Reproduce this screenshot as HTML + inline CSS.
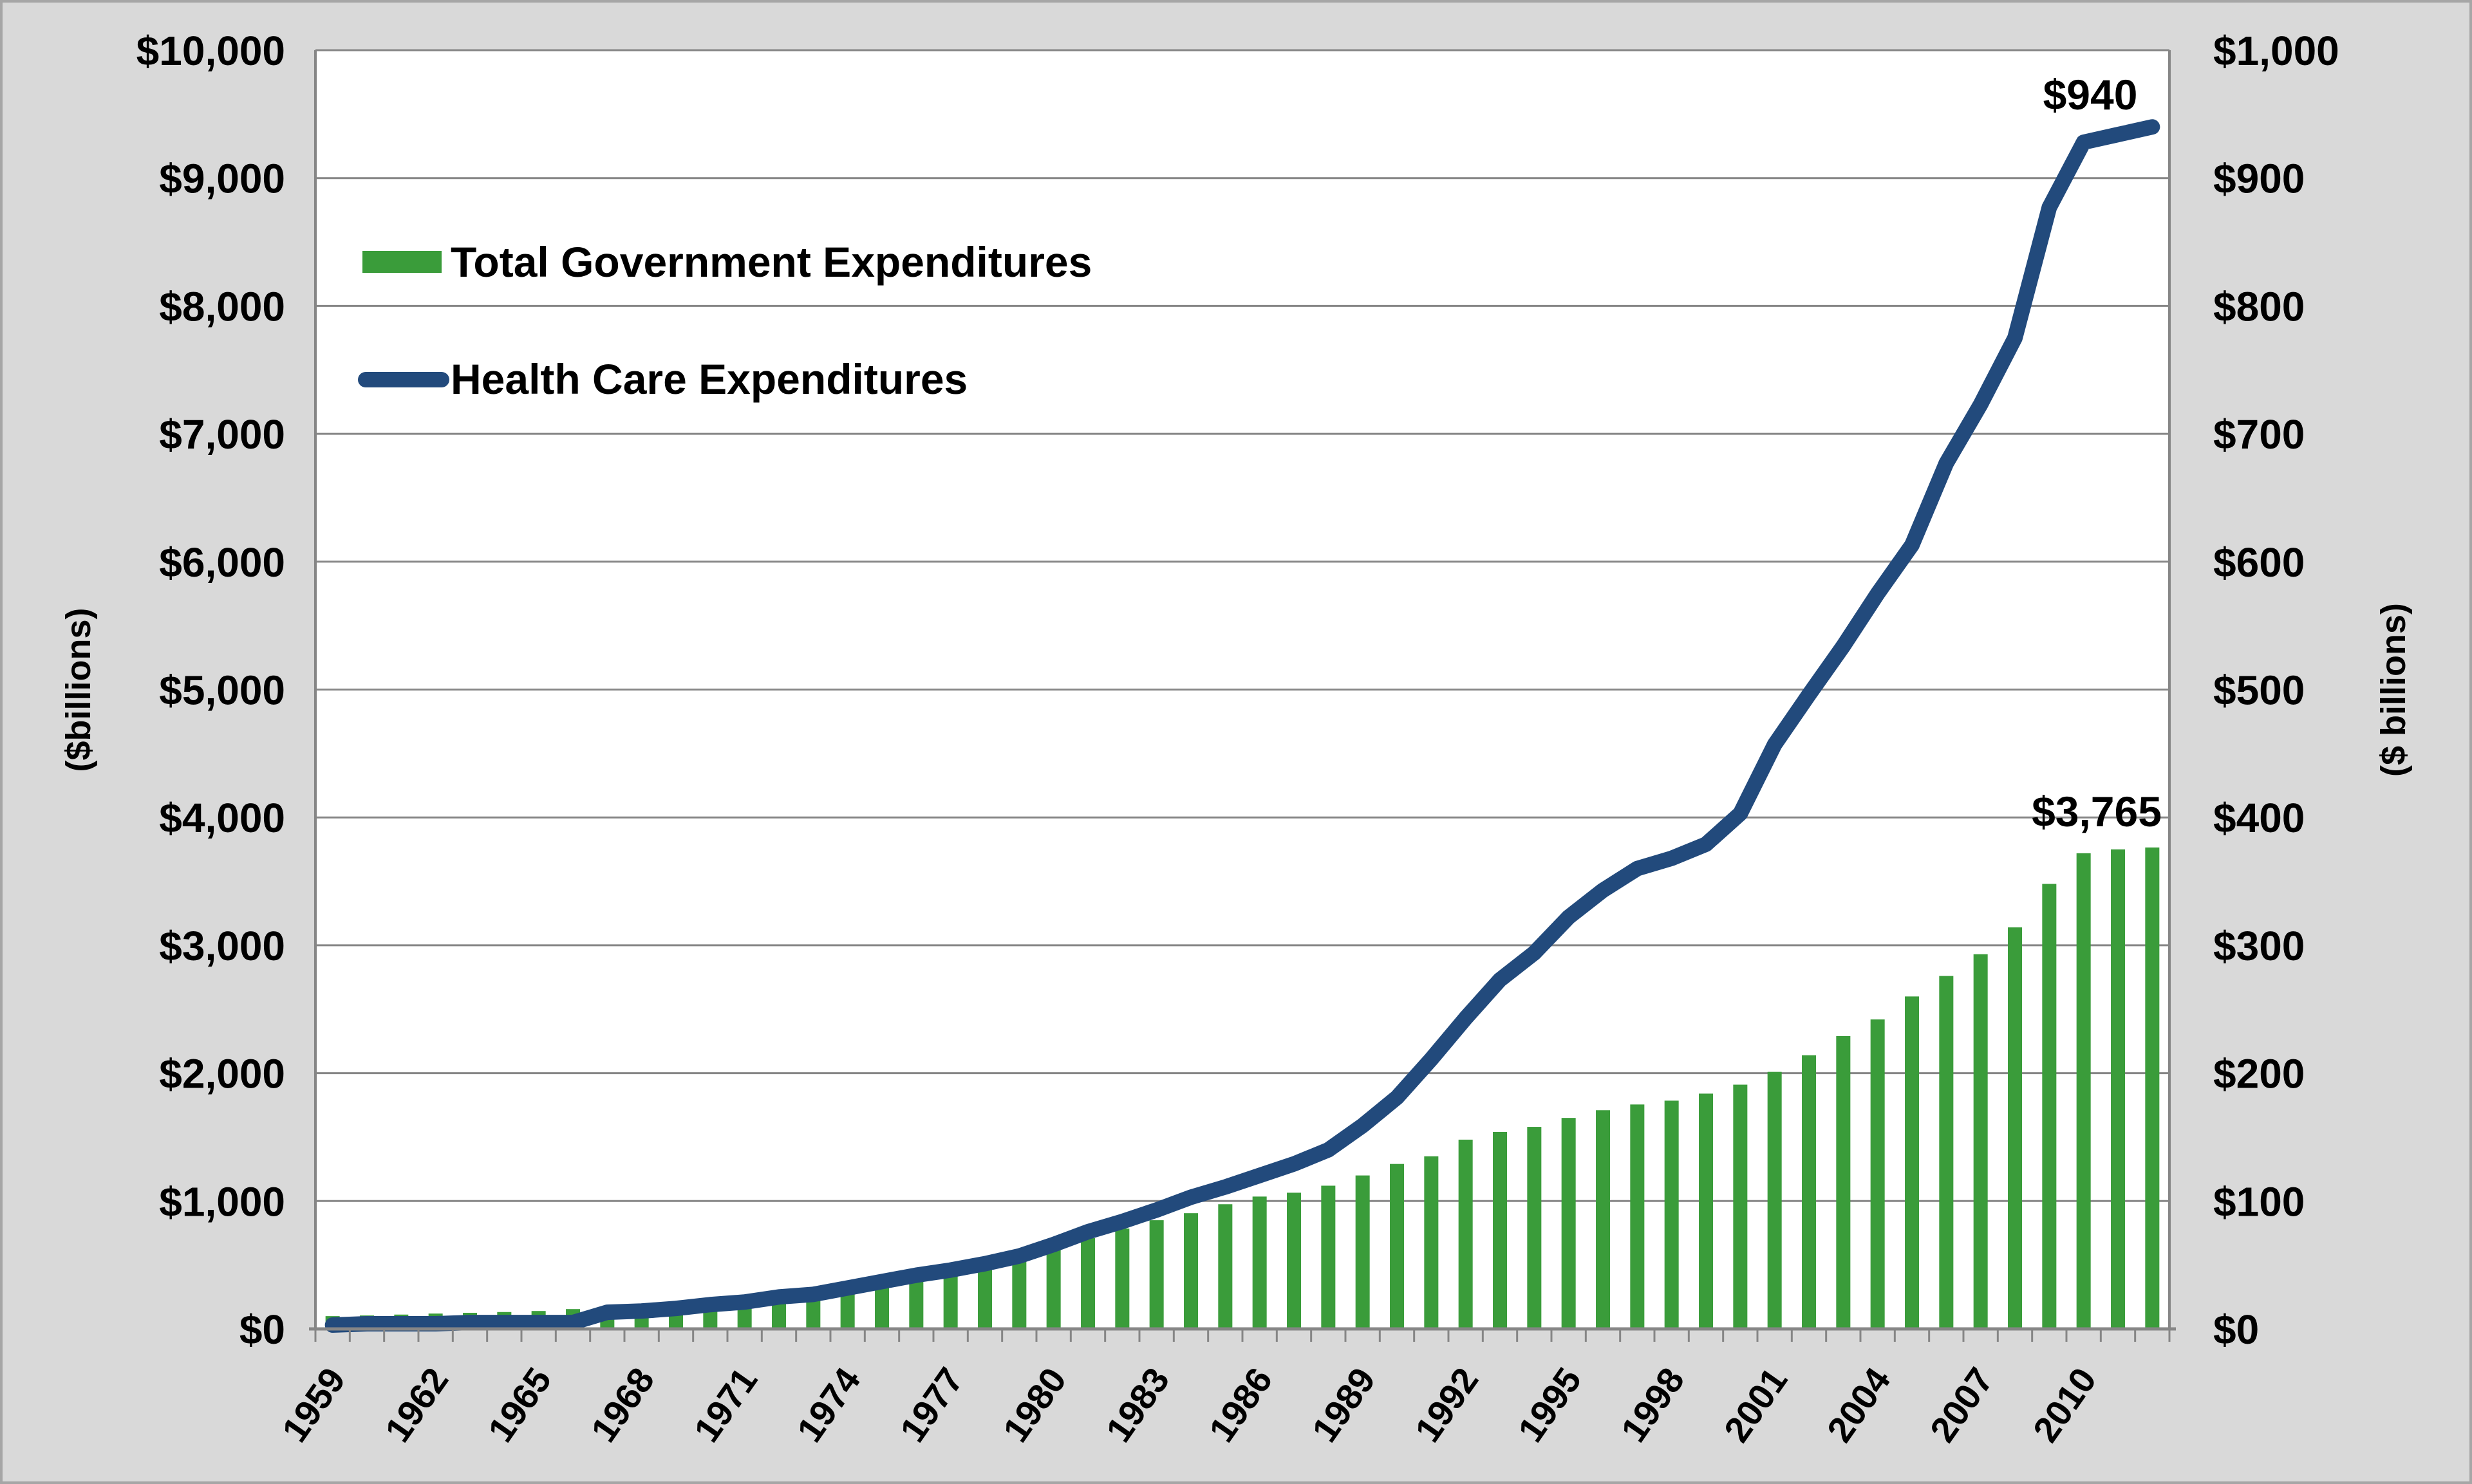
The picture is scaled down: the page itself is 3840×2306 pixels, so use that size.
<!DOCTYPE html>
<html><head><meta charset="utf-8"><style>
body{margin:0;background:#d9d9d9;}
svg{display:block;font-family:"Liberation Sans",sans-serif;}
</style></head><body>
<svg id="chart" width="3840" height="2306" viewBox="0 0 3840 2306" xmlns="http://www.w3.org/2000/svg">
<rect x="2" y="2" width="3836" height="2302" fill="#d9d9d9" stroke="#a6a6a6" stroke-width="4"/>
<rect x="490" y="78" width="2880" height="1987" fill="#fff"/>
<g id="grid"></g><g id="bars"></g><g id="line"></g><g id="axes"></g>
<text transform="translate(140,1072) rotate(-90)" text-anchor="middle" font-size="54" font-weight="bold">($billions)</text>
<text transform="translate(3736,1072) rotate(-90)" text-anchor="middle" font-size="54" font-weight="bold">($ billions)</text>
<rect x="563" y="390" width="123" height="34" fill="#3a9c3a"/>
<text x="700" y="430" font-size="66" font-weight="bold">Total Government Expenditures</text>
<line x1="568" y1="590" x2="686" y2="590" stroke="#224a7c" stroke-width="24" stroke-linecap="round"/>
<text x="700" y="612" font-size="66" font-weight="bold">Health Care Expenditures</text>
<text x="3247" y="170" text-anchor="middle" font-size="66" font-weight="bold">$940</text>
<text x="3257" y="1284" text-anchor="middle" font-size="66" font-weight="bold">$3,765</text>
</svg>
<script>
const years=[];for(let y=1959;y<=2012;y++)years.push(y);
const govValues=[100,105,112,120,126,132,140,155,175,195,210,230,255,280,305,345,395,430,470,515,570,640,710,785,850,905,975,1035,1065,1120,1200,1290,1350,1480,1540,1580,1650,1710,1755,1785,1840,1910,2010,2140,2290,2420,2600,2760,2930,3140,3480,3720,3750,3765];
const healthValues=[3,4,4,4,5,5,5,5,13,14,16,19,21,25,27,32,37,42,46,51,57,66,76,84,93,103,111,120,129,140,159,181,211,243,273,294,322,343,360,368,379,403,457,496,534,575,613,677,723,775,877,928,934,940];
const leftTicks=[0,1000,2000,3000,4000,5000,6000,7000,8000,9000,10000];
const leftLabels=["$0","$1,000","$2,000","$3,000","$4,000","$5,000","$6,000","$7,000","$8,000","$9,000","$10,000"];
const rightTicks=[0,100,200,300,400,500,600,700,800,900,1000];
const rightLabels=["$0","$100","$200","$300","$400","$500","$600","$700","$800","$900","$1,000"];
const L=490,R=3370,T=78,B=2065,NS="http://www.w3.org/2000/svg";
const band=(R-L)/years.length;
const xC=i=>L+band*(i+0.5);
const yL=v=>B-(v/10000)*(B-T);
const yR=v=>B-(v/1000)*(B-T);
function mk(tag,attrs,parent){const e=document.createElementNS(NS,tag);for(const k in attrs)e.setAttribute(k,attrs[k]);parent.appendChild(e);return e;}
const grid=document.getElementById('grid'),bars=document.getElementById('bars'),line=document.getElementById('line'),axes=document.getElementById('axes');
leftTicks.forEach((v,i)=>{
 const g=mk('line',{x1:L,x2:R,y1:yL(v),y2:yL(v),stroke:'#868686','stroke-width':3},grid);
 
 
 const t=mk('text',{x:443,y:yL(v)+23,'text-anchor':'end','font-size':64,'font-weight':'bold'},axes);t.textContent=leftLabels[i];
 
 
});
rightTicks.forEach((v,i)=>{
 const t=mk('text',{x:3438,y:yR(v)+23,'text-anchor':'start','font-size':64,'font-weight':'bold'},axes);t.textContent=rightLabels[i];
 
 
});
govValues.forEach((v,i)=>{
 const r=mk('rect',{x:xC(i)-11,y:yL(v),width:22,height:B-yL(v),fill:'#3a9c3a'},bars);
 
 
});
const p=mk('polyline',{points:healthValues.map((v,i)=>xC(i)+','+yR(v)).join(' '),fill:'none',stroke:'#224a7c','stroke-width':24,'stroke-linejoin':'round','stroke-linecap':'round'},line);


const ax=mk('line',{x1:L,x2:L,y1:T,y2:B,stroke:'#868686','stroke-width':4},axes);


const ax2=mk('line',{x1:R,x2:R,y1:T,y2:B,stroke:'#868686','stroke-width':4},axes);


const ax3=mk('line',{x1:L-10,x2:R+10,y1:B,y2:B,stroke:'#868686','stroke-width':5},axes);


for(let i=0;i<=years.length;i++){
 const tk=mk('line',{x1:L+band*i,x2:L+band*i,y1:B,y2:B+20,stroke:'#868686','stroke-width':3},axes);
 
 
}
years.forEach((y,i)=>{
 if((y-1959)%3)return;
 const t=mk('text',{transform:`translate(${xC(i)+22},${B+78}) rotate(-55)`,'text-anchor':'end','font-size':56,'font-weight':'bold'},axes);t.textContent=y;
 
 
});
</script>
</body></html>
